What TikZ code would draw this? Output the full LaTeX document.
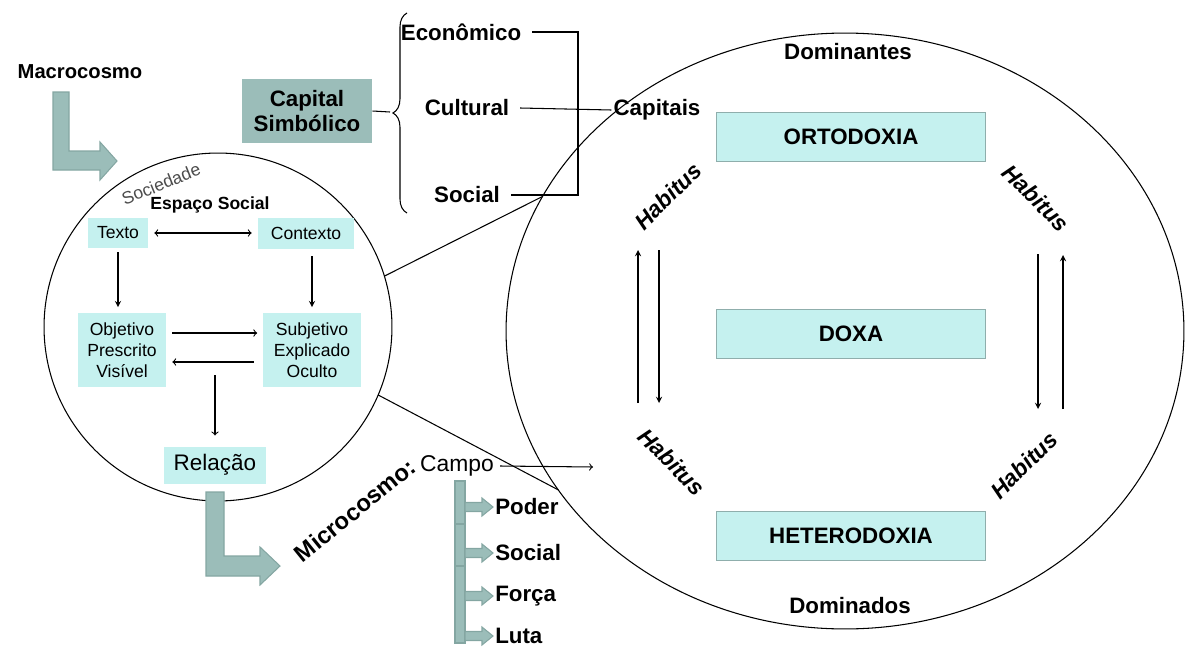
\documentclass[tikz,border=0pt]{standalone}
\usepackage{fontspec}
\setmainfont{Liberation Sans}
\usepackage{tikz}
\usetikzlibrary{shapes,arrows,positioning,decorations.pathreplacing}

\definecolor{boxcyan}{HTML}{C5F1EF}
\definecolor{boxedge}{HTML}{8FAEAC}
\definecolor{tealfill}{HTML}{9BBDB9}
\definecolor{tealedge}{HTML}{84A6A2}

\begin{document}
\begin{tikzpicture}[
    x=0.02cm, y=-0.02cm,
    line width=0.6pt,
    lbl/.style={font=\fontsize{12.7}{14}\selectfont\bfseries, inner sep=1pt},
    small/.style={font=\fontsize{10}{12}\selectfont, align=center},
    cyanbox/.style={rectangle, fill=boxcyan, inner sep=0pt, small},
    fieldbox/.style={rectangle, draw=boxedge, fill=boxcyan, minimum width=5.38cm, minimum height=0.98cm, lbl},
    tealbox/.style={rectangle, fill=tealfill, minimum width=2.6cm, minimum height=1.28cm, align=center, lbl},
    habitus/.style={font=\fontsize{13}{15}\selectfont\bfseries\itshape},
    blockarrow/.style={fill=tealfill, draw=tealedge, line width=0.6pt},
    arrow/.style={->, >=stealth},
    openarrow/.style={->, >=to}
]
\useasboundingbox (0,0) rectangle (1187,646);

% Circles
\node[circle, draw, minimum size=6.96cm, inner sep=0pt, outer sep=0pt] (socialspace) at (218,327) {};
\node[ellipse, draw, minimum width=13.56cm, minimum height=11.92cm, inner sep=0pt, outer sep=0pt] (bigfield) at (845,331) {};
\draw (socialspace.17) -- (bigfield.156);
\draw (socialspace.-23) -- (bigfield.209);

% Macrocosmo
\node[lbl, font=\fontsize{11.5}{13}\selectfont\bfseries] (macrocosmo) at (80,72) {Macrocosmo};
\draw[blockarrow] (53,92) -- (69,92) -- (69,151) -- (100,151) -- (100,142) -- (117,161)
    -- (100,180) -- (100,170) -- (53,170) -- cycle;

% Capital simbolico
\node[tealbox] (capsim) at (307,111) {Capital\\Simbólico};
\coordinate (bracetip) at (390,112);
\draw[decorate, decoration={brace, amplitude=8pt}] (407,213) -- (407,13);
\draw (capsim.east) -- (bracetip);

\node[lbl] (economico) at (461,32) {Econômico};
\node[lbl] (cultural) at (467,108) {Cultural};
\node[lbl] (social) at (467,195) {Social};
\node[lbl] (capitais) at (657,110) {Capitais};
\coordinate (capbar) at (578,112);
\draw ([xshift=5pt]economico.east) -| (capbar) |- ([xshift=5pt]social.east);
\draw ([xshift=5pt]cultural.east) -- (capitais.west);

% Espaco social
\node[font=\fontsize{10}{12}\selectfont, text=black!70, rotate=22] (sociedade) at (161,184) {Sociedade};
\node[small, font=\fontsize{10}{12}\selectfont\bfseries] (espaco) at (210,205) {Espaço Social};
\node[cyanbox, minimum width=1.22cm, minimum height=0.6cm] (texto) at (118,233) {Texto};
\node[cyanbox, minimum width=1.94cm, minimum height=0.62cm] (contexto) at (306,233) {Contexto};
\node[cyanbox, minimum width=1.78cm, minimum height=1.48cm] (objetivo) at (122,350) {Objetivo\\Prescrito\\Visível};
\node[cyanbox, minimum width=1.96cm, minimum height=1.48cm] (subjetivo) at (312,350) {Subjetivo\\Explicado\\Oculto};
\node[cyanbox, minimum width=2.06cm, minimum height=0.74cm, font=\fontsize{12.8}{14}\selectfont] (relacao) at (215,465) {Relação};
\coordinate (splitpt) at (215,375);

\draw[openarrow, <->, shorten <=3pt, shorten >=3pt] (texto) -- (contexto);
\draw[arrow, shorten <=2pt, shorten >=3pt] (texto.south) -- (texto.south |- objetivo.north);
\draw[arrow, shorten <=4pt, shorten >=3pt] (subjetivo.north |- contexto.south) -- (subjetivo.north);
\draw[openarrow, shorten <=3pt, shorten >=3pt] ([yshift=0.34cm]objetivo.east) -- ([yshift=0.34cm]objetivo.east -| subjetivo.west);
\draw[openarrow, shorten <=5pt, shorten >=3pt] ([yshift=-0.24cm]subjetivo.west) -- ([yshift=-0.24cm]subjetivo.west -| objetivo.east);
\draw[openarrow, shorten >=6pt] (splitpt) -- (relacao);

% Microcosmo
\draw[blockarrow] (206,492) -- (224,492) -- (224,556) -- (260,556) -- (260,547) -- (280,566)
    -- (260,585) -- (260,576) -- (206,576) -- cycle;
\node[font=\fontsize{13.5}{15}\selectfont\bfseries, rotate=39] (microcosmo) at (355,510) {Microcosmo:};
\node[font=\fontsize{13}{15}\selectfont] (campo) at (457,466) {Campo};
\coordinate (campoend) at (593,467);
\draw[openarrow] (campo.east) -- (campoend);

\draw[blockarrow] (455,481) rectangle (465,643);
\foreach \yy in {524,566}
    \draw[tealedge] (455,\yy) -- (465,\yy);
\foreach \yy/\txt/\nm in {507/Poder/poder, 553/Social/socialcampo, 596/Força/forca, 636/Luta/luta} {
    \draw[blockarrow] (465,\yy-4.5) -- (482,\yy-4.5) -- (482,\yy-9) -- (493,\yy) -- (482,\yy+9)
        -- (482,\yy+4.5) -- (465,\yy+4.5) -- cycle;
    \node[lbl, anchor=west] (\nm) at (493,\yy) {\txt};
}

% Campo
\node[lbl] (dominantes) at (848,52) {Dominantes};
\node[lbl] (dominados) at (850,606) {Dominados};
\node[fieldbox] (ortodoxia) at (851,137) {ORTODOXIA};
\node[fieldbox, below=2.94cm of ortodoxia] (doxa) {DOXA};
\node[fieldbox, below=3.04cm of doxa] (heterodoxia) {HETERODOXIA};

\node[habitus, rotate=45] (habtl) at (668,196) {Habitus};
\node[habitus, rotate=-45] (habtr) at (1036,198) {Habitus};
\node[habitus, rotate=-45] (habbl) at (672,462) {Habitus};
\node[habitus, rotate=45] (habbr) at (1024,465) {Habitus};

\foreach \nm/\x/\ya/\yb in {lup/638/403/250, ldn/659/250/403, rdn/1038/254/409, rup/1063/409/255} {
    \coordinate (\nm-a) at (\x,\ya);
    \coordinate (\nm-b) at (\x,\yb);
    \draw[arrow] (\nm-a) -- (\nm-b);
}

\end{tikzpicture}
\end{document}
